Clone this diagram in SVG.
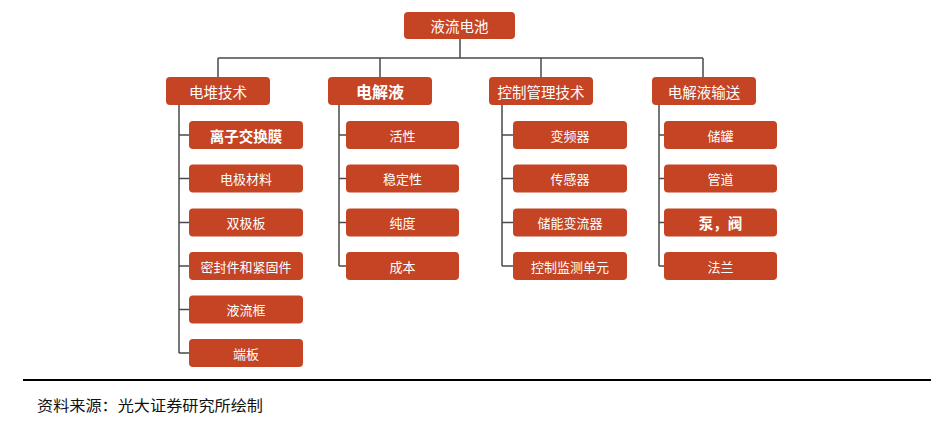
<svg xmlns="http://www.w3.org/2000/svg" width="950" height="431" viewBox="0 0 950 431">
<style>
.b{fill:#C44424;}
.t{fill:#fff;font-family:"Noto Sans CJK SC","Noto Sans",sans-serif;font-size:13px;text-anchor:middle;dominant-baseline:central;}
.h{font-size:14.5px;}
.bold{font-weight:bold;}
.c{fill:none;stroke:#4a4a4a;stroke-width:1.5;}
</style>
<rect width="950" height="431" fill="#fff"/>
<g id="connectors">
<path class="c" d="M460 39V58M218 58H703M218 58V77M380 58V77M541 58V77M703 58V77"/>
<path class="c" d="M179 105V353M179 135H189M179 178.5H189M179 222.5H189M179 266H189M179 309.5H189M179 353H189"/>
<path class="c" d="M339 105V266M339 135H346M339 178.5H346M339 222.5H346M339 266H346"/>
<path class="c" d="M502 105V266M502 135H513M502 178.5H513M502 222.5H513M502 266H513"/>
<path class="c" d="M659 105V266M659 135H664M659 178.5H664M659 222.5H664M659 266H664"/>
</g>
<g id="root"><rect class="b" x="404" y="12" width="111" height="27" rx="4"/><text class="t h" x="459.5" y="25.5">液流电池</text></g>
<g id="n1"><rect class="b" x="166" y="77" width="104" height="28" rx="4"/><text class="t h" x="218" y="91">电堆技术</text></g>
<g id="n2"><rect class="b" x="328" y="77" width="104" height="28" rx="4"/><text class="t bold" style="font-size:16px" x="380" y="91">电解液</text></g>
<g id="n3"><rect class="b" x="489" y="77" width="104" height="28" rx="4"/><text class="t h" x="541" y="91">控制管理技术</text></g>
<g id="n4"><rect class="b" x="652" y="77" width="104" height="28" rx="4"/><text class="t h" x="704" y="91">电解液输送</text></g>

<g id="n1a"><rect class="b" x="189" y="121" width="114" height="28" rx="4"/><text class="t h bold" x="246" y="135">离子交换膜</text></g>
<g id="n1b"><rect class="b" x="189" y="164.5" width="114" height="28" rx="4"/><text class="t" x="246" y="178.5">电极材料</text></g>
<g id="n1c"><rect class="b" x="189" y="208.5" width="114" height="28" rx="4"/><text class="t" x="246" y="222.5">双极板</text></g>
<g id="n1d"><rect class="b" x="189" y="252" width="114" height="28" rx="4"/><text class="t" x="246" y="266">密封件和紧固件</text></g>
<g id="n1e"><rect class="b" x="189" y="295.5" width="114" height="28" rx="4"/><text class="t" x="246" y="309.5">液流框</text></g>
<g id="n1f"><rect class="b" x="189" y="339" width="114" height="28" rx="4"/><text class="t" x="246" y="353">端板</text></g>

<g id="n2a"><rect class="b" x="346" y="121" width="113" height="28" rx="4"/><text class="t" x="402.5" y="135">活性</text></g>
<g id="n2b"><rect class="b" x="346" y="164.5" width="113" height="28" rx="4"/><text class="t" x="402.5" y="178.5">稳定性</text></g>
<g id="n2c"><rect class="b" x="346" y="208.5" width="113" height="28" rx="4"/><text class="t" x="402.5" y="222.5">纯度</text></g>
<g id="n2d"><rect class="b" x="346" y="252" width="113" height="28" rx="4"/><text class="t" x="402.5" y="266">成本</text></g>

<g id="n3a"><rect class="b" x="513" y="121" width="114" height="28" rx="4"/><text class="t" x="570" y="135">变频器</text></g>
<g id="n3b"><rect class="b" x="513" y="164.5" width="114" height="28" rx="4"/><text class="t" x="570" y="178.5">传感器</text></g>
<g id="n3c"><rect class="b" x="513" y="208.5" width="114" height="28" rx="4"/><text class="t" x="570" y="222.5">储能变流器</text></g>
<g id="n3d"><rect class="b" x="513" y="252" width="114" height="28" rx="4"/><text class="t" x="570" y="266">控制监测单元</text></g>

<g id="n4a"><rect class="b" x="664" y="121" width="113" height="28" rx="4"/><text class="t" x="720.5" y="135">储罐</text></g>
<g id="n4b"><rect class="b" x="664" y="164.5" width="113" height="28" rx="4"/><text class="t" x="720.5" y="178.5">管道</text></g>
<g id="n4c"><rect class="b" x="664" y="208.5" width="113" height="28" rx="4"/><text class="t h bold" x="720.5" y="222.5">泵，阀</text></g>
<g id="n4d"><rect class="b" x="664" y="252" width="113" height="28" rx="4"/><text class="t" x="720.5" y="266">法兰</text></g>

<line x1="23" y1="380" x2="931" y2="380" stroke="#000" stroke-width="2"/>
<text x="37" y="411" font-family="Noto Sans CJK SC,sans-serif" font-size="15" fill="#111" textLength="226" lengthAdjust="spacingAndGlyphs">资料来源：光大证券研究所绘制</text>
</svg>
